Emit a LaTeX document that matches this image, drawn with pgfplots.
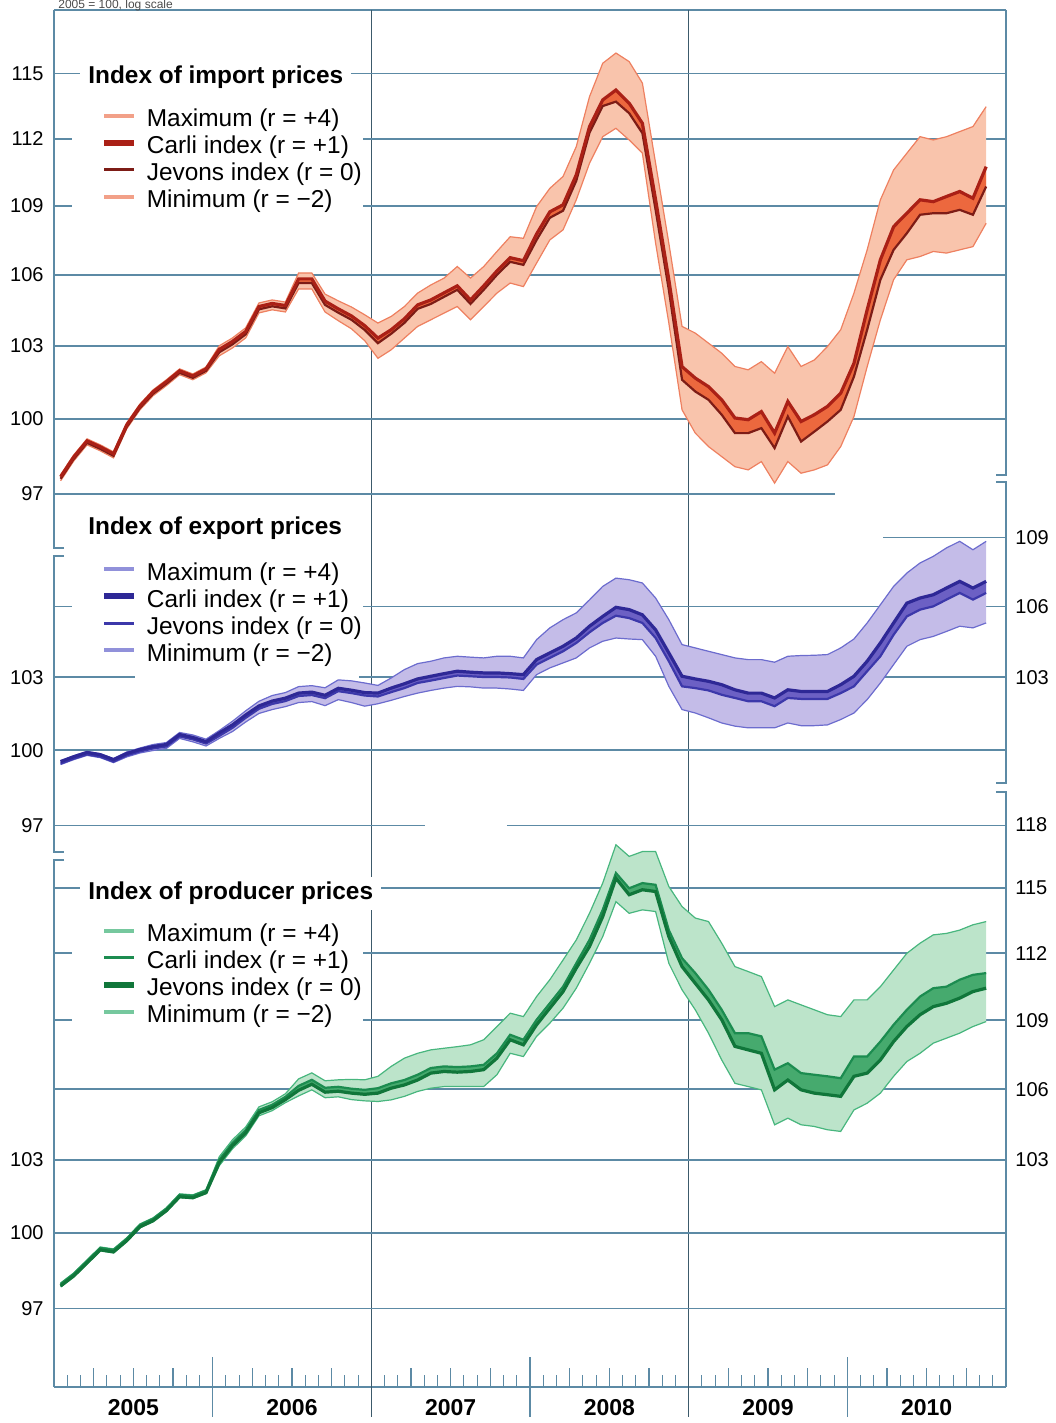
\documentclass[border=0pt]{standalone}
\usepackage{fontspec}
\setmainfont{Liberation Sans}
\usepackage{pgfplots}
\pgfplotsset{compat=1.18}
\usepackage{pgfplotstable}

\definecolor{gridc}{RGB}{92,138,165}
\definecolor{impL}{RGB}{249,196,172}
\definecolor{impE}{RGB}{238,128,96}
\definecolor{impM}{RGB}{236,104,62}
\definecolor{impC}{RGB}{170,32,22}
\definecolor{impJ}{RGB}{125,28,22}
\definecolor{expL}{RGB}{196,188,232}
\definecolor{expE}{RGB}{108,108,206}
\definecolor{expM}{RGB}{108,96,196}
\definecolor{expC}{RGB}{46,40,150}
\definecolor{expJ}{RGB}{60,56,170}
\definecolor{proL}{RGB}{188,228,202}
\definecolor{proE}{RGB}{72,182,126}
\definecolor{proM}{RGB}{70,170,110}
\definecolor{proC}{RGB}{28,140,80}
\definecolor{proJ}{RGB}{16,118,58}

% month index 0 = Jan 2005 ... 70 = Nov 2010
\pgfplotstableread{
m max carli jevons min
0 97.76 97.68 97.60 97.52
1 98.55 98.47 98.39 98.31
2 99.19 99.11 99.03 98.95
3 98.95 98.87 98.79 98.71
4 98.67 98.59 98.51 98.43
5 99.83 99.75 99.67 99.59
6 100.60 100.52 100.44 100.36
7 101.18 101.10 101.02 100.94
8 101.59 101.51 101.43 101.35
9 102.04 101.96 101.88 101.80
10 101.83 101.75 101.67 101.59
11 102.12 102.04 101.96 101.88
12 103.00 102.85 102.73 102.58
13 103.33 103.18 103.06 102.91
14 103.75 103.60 103.48 103.33
15 104.80 104.65 104.53 104.38
16 104.93 104.78 104.66 104.51
17 104.84 104.69 104.57 104.42
18 106.08 105.83 105.65 105.40
19 106.08 105.83 105.65 105.40
20 105.18 104.88 104.72 104.42
21 104.89 104.55 104.39 104.05
22 104.63 104.25 104.09 103.71
23 104.30 103.84 103.66 103.21
24 103.95 103.32 103.11 102.48
25 104.23 103.67 103.50 102.83
26 104.65 104.13 103.96 103.32
27 105.22 104.72 104.55 103.81
28 105.57 104.93 104.76 104.09
29 105.86 105.23 105.06 104.37
30 106.36 105.53 105.36 104.65
31 105.86 104.93 104.76 104.09
32 106.36 105.53 105.36 104.65
33 107.01 106.17 106.00 105.22
34 107.65 106.74 106.56 105.65
35 107.58 106.61 106.43 105.50
36 108.97 107.77 107.51 106.51
37 109.78 108.74 108.48 107.51
38 110.31 109.05 108.79 107.95
39 111.65 110.38 110.12 109.27
40 113.93 112.55 112.28 110.90
41 115.48 113.78 113.50 112.10
42 115.96 114.24 113.70 112.48
43 115.56 113.63 113.17 111.95
44 114.56 112.71 112.26 111.35
45 110.90 109.27 108.83 107.37
46 107.37 105.79 105.36 103.95
47 103.81 102.13 101.59 100.36
48 103.53 101.66 101.11 99.42
49 103.11 101.31 100.77 98.88
50 102.69 100.77 100.16 98.48
51 102.14 100.03 99.42 98.08
52 102.00 99.96 99.42 97.95
53 102.34 100.29 99.62 98.28
54 101.86 99.42 98.82 97.43
55 102.97 100.70 100.09 98.28
56 102.14 99.89 99.08 97.82
57 102.41 100.16 99.48 97.95
58 102.97 100.50 99.89 98.15
59 103.67 101.04 100.36 98.88
60 105.22 102.27 101.72 100.09
61 107.08 104.51 103.67 102.13
62 109.27 106.65 105.79 104.09
63 110.60 108.09 107.08 105.79
64 111.35 108.68 107.80 106.65
65 112.10 109.27 108.61 106.79
66 111.95 109.19 108.68 107.01
67 112.10 109.42 108.68 106.94
68 112.33 109.64 108.83 107.08
69 112.56 109.34 108.61 107.22
70 113.47 110.75 109.86 108.24
}\impdata

\pgfplotstableread{
m max carli jevons min
0 99.58 99.54 99.46 99.42
1 99.78 99.74 99.66 99.62
2 99.95 99.91 99.83 99.79
3 99.86 99.82 99.74 99.70
4 99.66 99.62 99.54 99.50
5 99.93 99.87 99.79 99.73
6 100.09 100.03 99.95 99.89
7 100.23 100.15 100.07 99.99
8 100.31 100.23 100.15 100.07
9 100.72 100.64 100.56 100.48
10 100.62 100.52 100.44 100.34
11 100.45 100.35 100.27 100.17
12 100.80 100.70 100.58 100.48
13 101.18 101.03 100.91 100.76
14 101.61 101.44 101.32 101.15
15 102.00 101.81 101.69 101.50
16 102.24 102.01 101.89 101.66
17 102.36 102.13 102.01 101.78
18 102.61 102.34 102.22 101.95
19 102.65 102.38 102.26 101.99
20 102.56 102.25 102.13 101.82
21 102.89 102.54 102.42 102.07
22 102.85 102.46 102.34 101.95
23 102.76 102.36 102.24 101.80
24 102.66 102.34 102.20 101.90
25 102.97 102.55 102.38 102.04
26 103.32 102.73 102.55 102.20
27 103.57 102.93 102.76 102.34
28 103.67 103.04 102.86 102.45
29 103.81 103.15 102.97 102.55
30 103.88 103.25 103.07 102.62
31 103.84 103.21 103.04 102.60
32 103.81 103.18 103.01 102.55
33 103.88 103.18 103.01 102.55
34 103.88 103.15 102.99 102.51
35 103.81 103.11 102.93 102.45
36 104.58 103.74 103.53 103.11
37 105.08 104.02 103.81 103.39
38 105.43 104.30 104.09 103.60
39 105.72 104.65 104.44 103.81
40 106.28 105.15 104.89 104.23
41 106.86 105.57 105.29 104.51
42 107.22 105.96 105.60 104.65
43 107.15 105.86 105.50 104.61
44 107.01 105.64 105.29 104.58
45 106.36 105.00 104.65 103.88
46 105.43 104.02 103.67 102.62
47 104.37 103.04 102.62 101.66
48 104.23 102.93 102.55 101.52
49 104.09 102.83 102.45 101.32
50 103.95 102.69 102.27 101.11
51 103.81 102.48 102.14 100.98
52 103.74 102.34 102.00 100.91
53 103.74 102.34 102.00 100.91
54 103.63 102.14 101.80 100.91
55 103.88 102.48 102.14 101.11
56 103.91 102.41 102.10 101.00
57 103.92 102.41 102.10 101.00
58 103.95 102.41 102.10 101.03
59 104.23 102.69 102.34 101.25
60 104.61 103.04 102.62 101.52
61 105.29 103.67 103.25 102.07
62 106.07 104.44 103.88 102.76
63 106.86 105.29 104.79 103.53
64 107.44 106.14 105.57 104.30
65 107.88 106.36 105.86 104.58
66 108.17 106.50 106.00 104.72
67 108.54 106.79 106.29 104.93
68 108.83 107.08 106.58 105.15
69 108.46 106.79 106.29 105.08
70 108.83 107.08 106.58 105.29
}\expdata

\pgfplotstableread{
m max carli jevons min
0 98.00 97.96 97.88 97.84
1 98.40 98.36 98.28 98.24
2 98.92 98.88 98.80 98.76
3 99.44 99.40 99.32 99.28
4 99.36 99.32 99.24 99.20
5 99.81 99.77 99.69 99.65
6 100.37 100.33 100.25 100.21
7 100.62 100.58 100.50 100.46
8 101.03 100.99 100.91 100.87
9 101.60 101.56 101.48 101.44
10 101.56 101.52 101.44 101.40
11 101.77 101.73 101.65 101.61
12 103.14 103.01 102.89 102.76
13 103.85 103.72 103.60 103.47
14 104.39 104.26 104.14 104.01
15 105.24 105.11 104.99 104.86
16 105.46 105.33 105.21 105.08
17 105.80 105.67 105.55 105.42
18 106.44 106.14 105.95 105.71
19 106.70 106.40 106.21 105.97
20 106.36 106.06 105.87 105.63
21 106.40 106.10 105.91 105.67
22 106.42 106.02 105.83 105.55
23 106.40 105.97 105.78 105.50
24 106.55 106.04 105.83 105.47
25 106.98 106.25 106.04 105.54
26 107.34 106.39 106.18 105.69
27 107.55 106.62 106.39 105.90
28 107.70 106.91 106.69 106.04
29 107.77 106.98 106.76 106.11
30 107.84 106.95 106.73 106.11
31 107.92 106.98 106.76 106.11
32 108.14 107.05 106.84 106.11
33 108.72 107.55 107.34 106.62
34 109.31 108.36 108.14 107.55
35 109.16 108.14 107.92 107.41
36 110.05 109.02 108.80 108.29
37 110.80 109.75 109.53 108.87
38 111.69 110.49 110.27 109.53
39 112.60 111.54 111.32 110.42
40 113.82 112.60 112.30 111.54
41 115.22 113.98 113.67 112.75
42 117.02 115.69 115.45 114.36
43 116.47 114.98 114.68 113.82
44 116.70 115.22 114.91 113.98
45 116.70 115.14 114.83 113.90
46 115.06 113.05 112.75 111.54
47 114.13 111.77 111.39 110.35
48 113.60 111.10 110.64 109.46
49 113.44 110.35 109.90 108.43
50 112.45 109.46 109.02 107.26
51 111.39 108.43 107.85 106.25
52 111.17 108.43 107.70 106.11
53 110.94 108.29 107.55 105.97
54 109.60 106.84 105.97 104.48
55 109.90 107.12 106.39 104.76
56 109.68 106.69 105.97 104.48
57 109.46 106.62 105.83 104.41
58 109.24 106.55 105.76 104.27
59 109.16 106.47 105.69 104.20
60 109.90 107.41 106.55 105.11
61 109.90 107.41 106.69 105.40
62 110.49 108.06 107.26 105.83
63 111.24 108.80 108.06 106.55
64 111.99 109.46 108.72 107.19
65 112.45 110.05 109.24 107.55
66 112.83 110.42 109.60 107.99
67 112.90 110.49 109.75 108.21
68 113.05 110.80 109.98 108.43
69 113.29 111.02 110.27 108.72
70 113.44 111.10 110.42 108.94
}\prodata

% band outlines: the table followed by itself in reverse month order
\pgfplotstablesort[sort key=m,sort cmp=int >]{\imprev}{\impdata}
\pgfplotstablevertcat{\impband}{\impdata}
\pgfplotstablevertcat{\impband}{\imprev}
\pgfplotstablesort[sort key=m,sort cmp=int >]{\exprev}{\expdata}
\pgfplotstablevertcat{\expband}{\expdata}
\pgfplotstablevertcat{\expband}{\exprev}
\pgfplotstablesort[sort key=m,sort cmp=int >]{\prorev}{\prodata}
\pgfplotstablevertcat{\proband}{\prodata}
\pgfplotstablevertcat{\proband}{\prorev}

\tikzset{
  gl/.style={draw=gridc, line width=0.8pt},
  frm/.style={draw=gridc, line width=0.9pt},
  vl/.style={draw=gridc!65!black, line width=0.8pt},
  ttl/.style={fill=white, inner xsep=4pt, inner ysep=2.5pt, anchor=base west, font=\bfseries\fontsize{12.2}{14}\selectfont},
}

\begin{document}
\begin{tikzpicture}
% ---------- base frame axis (y in negative pixel rows) ----------
\begin{axis}[at={(27pt,18pt)}, anchor=south west, scale only axis,
  width=476pt, height=688.5pt, xmin=-0.5, xmax=71.5, ymin=-1387, ymax=-10,
  axis line style={draw=none}, clip=false, ytick=\empty,
  xtick={2.5,5.5,8.5,14.5,17.5,20.5,26.5,29.5,32.5,38.5,41.5,44.5,50.5,53.5,56.5,62.5,65.5,68.5},
  xticklabels={,2005,,,2006,,,2007,,,2008,,,2009,,,2010,},
  minor xtick={0.5,1.5,3.5,4.5,6.5,7.5,9.5,10.5,12.5,13.5,15.5,16.5,18.5,19.5,21.5,22.5,24.5,25.5,27.5,28.5,30.5,31.5,33.5,34.5,36.5,37.5,39.5,40.5,42.5,43.5,45.5,46.5,48.5,49.5,51.5,52.5,54.5,55.5,57.5,58.5,60.5,61.5,63.5,64.5,66.5,67.5,69.5,70.5},
  extra x ticks={11.5,23.5,35.5,47.5,59.5}, extra x tick labels={},
  extra x tick style={major tick length=30pt, tick align=center},
  xtick pos=bottom, tick align=inside,
  major tick length=9.5pt, minor tick length=6pt,
  tick style={draw=gridc, line width=0.6pt},
  xticklabel style={font=\bfseries\fontsize{11.5}{13}\selectfont, yshift=-2.7pt}]
\draw[frm] (axis cs:-0.5,-10) -- (axis cs:71.5,-10);
\draw[frm] (axis cs:-0.5,-1387) -- (axis cs:71.5,-1387);
\draw[frm] (axis cs:0.26,-548) -- (axis cs:-0.5,-548) -- (axis cs:-0.5,-10);
\draw[frm] (axis cs:0.26,-556) -- (axis cs:-0.5,-556) -- (axis cs:-0.5,-852) -- (axis cs:0.26,-852);
\draw[frm] (axis cs:0.26,-860) -- (axis cs:-0.5,-860) -- (axis cs:-0.5,-1387);
\draw[frm] (axis cs:71.5,-10) -- (axis cs:71.5,-475) -- (axis cs:70.74,-475);
\draw[frm] (axis cs:70.74,-482) -- (axis cs:71.5,-482) -- (axis cs:71.5,-783) -- (axis cs:70.74,-783);
\draw[frm] (axis cs:70.74,-792) -- (axis cs:71.5,-792) -- (axis cs:71.5,-1387);
\draw[vl] (axis cs:23.5,-10) -- (axis cs:23.5,-1417);
\draw[vl] (axis cs:47.5,-10) -- (axis cs:47.5,-1417);
\node[anchor=base west, inner sep=0pt, font=\fontsize{6}{7}\selectfont, text=black!70] at (axis cs:-0.2,-8.5) {2005 = 100, log scale};
\end{axis}

% ---------- import prices ----------
\begin{axis}[at={(27pt,18pt)}, anchor=south west, scale only axis,
  width=476pt, height=688.5pt, xmin=-0.5, xmax=71.5, xtick=\empty,
  ymode=log, ymin=67.575, ymax=118.005,
  axis line style={draw=none}, major tick length=0pt, ytick style={draw=none},
  clip=false, no markers,
  ytick={97,100,103,106,109,112,115}, yticklabels={97,100,103,106,109,112,115},
  yticklabel style={font=\fontsize{10}{12}\selectfont, xshift=-1.7pt},
  legend cell align=left,
  legend image code/.code={\path[draw=none] (-16pt,0pt) -- (15pt,0pt); \draw[#1] (0pt,2.6pt) -- (15pt,2.6pt);},
  legend style={draw=none, fill=white, inner sep=0pt, font=\fontsize{12.2}{14}\selectfont,
    column sep=4pt, row sep=0pt, nodes={inner sep=0.7pt, text height=8.9pt, text depth=3.2pt},
    at={(0.019,0.9293)}, anchor=north west}]
\draw[gl] (axis cs:-0.5,115) -- (axis cs:71.5,115);
\draw[gl] (axis cs:-0.5,112) -- (axis cs:71.5,112);
\draw[gl] (axis cs:-0.5,109) -- (axis cs:71.5,109);
\draw[gl] (axis cs:-0.5,106) -- (axis cs:71.5,106);
\draw[gl] (axis cs:-0.5,103) -- (axis cs:71.5,103);
\draw[gl] (axis cs:-0.5,100) -- (axis cs:71.5,100);
\draw[gl] (axis cs:-0.5,97) -- (axis cs:58.57,97);
\addplot[fill=impL, draw=none, forget plot] table[x=m, y expr={\coordindex<71 ? \thisrow{max} : \thisrow{min}}]{\impband};
\addplot[impE, line width=0.6pt, forget plot] table[x=m,y=max]{\impdata};
\addplot[impE, line width=0.6pt, forget plot] table[x=m,y=min]{\impdata};
\addplot[fill=impM, draw=none, forget plot] table[x=m, y expr={\coordindex<71 ? \thisrow{carli} : \thisrow{jevons}}]{\impband};
\addplot[impJ, line width=1.1pt, forget plot] table[x=m,y=jevons]{\impdata};
\addplot[impC, line width=1.6pt, forget plot] table[x=m,y=carli]{\impdata};
\node[ttl] at (rel axis cs:0.0273,0.9468) {Index of import prices};
\addlegendimage{impE!75, line width=2pt}\addlegendentry{Maximum (r = +4)}
\addlegendimage{impC, line width=3pt}\addlegendentry{Carli index (r = +1)}
\addlegendimage{impJ, line width=1.6pt}\addlegendentry{Jevons index (r = 0)}
\addlegendimage{impE!75, line width=2pt}\addlegendentry{Minimum (r = −2)}
\end{axis}

% ---------- export prices ----------
\begin{axis}[at={(27pt,18pt)}, anchor=south west, scale only axis,
  width=476pt, height=688.5pt, xmin=-0.5, xmax=71.5, xtick=\empty,
  ymode=log, ymin=77.287, ymax=134.965,
  axis line style={draw=none}, major tick length=0pt, ytick style={draw=none},
  clip=false, no markers,
  ytick={97,100,103}, yticklabels={97,100,103},
  yticklabel style={font=\fontsize{10}{12}\selectfont, xshift=-1.7pt},
  legend cell align=left,
  legend image code/.code={\path[draw=none] (-16pt,0pt) -- (15pt,0pt); \draw[#1] (0pt,2.6pt) -- (15pt,2.6pt);},
  legend style={draw=none, fill=white, inner sep=0pt, font=\fontsize{12.2}{14}\selectfont,
    column sep=4pt, row sep=0pt, nodes={inner sep=0.7pt, text height=8.9pt, text depth=3.2pt},
    at={(0.019,0.6001)}, anchor=north west}]
\draw[gl] (axis cs:-0.5,106) -- (axis cs:71.5,106);
\draw[gl] (axis cs:-0.5,100) -- (axis cs:71.5,100);
\draw[gl] (axis cs:62.2,109) -- (axis cs:71.5,109);
\draw[gl] (axis cs:-0.5,103) -- (axis cs:5.63,103);
\draw[gl] (axis cs:22.6,103) -- (axis cs:71.5,103);
\draw[gl] (axis cs:-0.5,97) -- (axis cs:27.56,97);
\draw[gl] (axis cs:33.76,97) -- (axis cs:71.5,97);
\addplot[fill=expL, draw=none, forget plot] table[x=m, y expr={\coordindex<71 ? \thisrow{max} : \thisrow{min}}]{\expband};
\addplot[expE, line width=0.6pt, forget plot] table[x=m,y=max]{\expdata};
\addplot[expE, line width=0.6pt, forget plot] table[x=m,y=min]{\expdata};
\addplot[fill=expM, draw=none, forget plot] table[x=m, y expr={\coordindex<71 ? \thisrow{carli} : \thisrow{jevons}}]{\expband};
\addplot[expJ, line width=1.1pt, forget plot] table[x=m,y=jevons]{\expdata};
\addplot[expC, line width=1.6pt, forget plot] table[x=m,y=carli]{\expdata};
\node[ttl] at (rel axis cs:0.0273,0.6187) {Index of export prices};
\addlegendimage{expE!75, line width=2pt}\addlegendentry{Maximum (r = +4)}
\addlegendimage{expC, line width=3pt}\addlegendentry{Carli index (r = +1)}
\addlegendimage{expJ, line width=1.6pt}\addlegendentry{Jevons index (r = 0)}
\addlegendimage{expE!75, line width=2pt}\addlegendentry{Minimum (r = −2)}
\end{axis}
\begin{axis}[at={(27pt,18pt)}, anchor=south west, scale only axis,
  width=476pt, height=688.5pt, xmin=-0.5, xmax=71.5, xtick=\empty,
  ymode=log, ymin=77.287, ymax=134.965,
  axis line style={draw=none}, major tick length=0pt, ytick style={draw=none},
  ytick={103,106,109}, yticklabels={103,106,109}, yticklabel pos=right,
  yticklabel style={font=\fontsize{10}{12}\selectfont, xshift=1.2pt}]
\end{axis}

% ---------- producer prices ----------
\begin{axis}[at={(27pt,18pt)}, anchor=south west, scale only axis,
  width=476pt, height=688.5pt, xmin=-0.5, xmax=71.5, xtick=\empty,
  ymode=log, ymin=93.964, ymax=164.088,
  axis line style={draw=none}, major tick length=0pt, ytick style={draw=none},
  clip=false, no markers,
  ytick={97,100,103}, yticklabels={97,100,103},
  yticklabel style={font=\fontsize{10}{12}\selectfont, xshift=-1.7pt},
  legend cell align=left,
  legend image code/.code={\path[draw=none] (-16pt,0pt) -- (15pt,0pt); \draw[#1] (0pt,2.6pt) -- (15pt,2.6pt);},
  legend style={draw=none, fill=white, inner sep=0pt, font=\fontsize{12.2}{14}\selectfont,
    column sep=4pt, row sep=0pt, nodes={inner sep=0.7pt, text height=8.9pt, text depth=3.2pt},
    at={(0.019,0.3375)}, anchor=north west}]
\draw[gl] (axis cs:-0.5,115) -- (axis cs:71.5,115);
\draw[gl] (axis cs:-0.5,112) -- (axis cs:71.5,112);
\draw[gl] (axis cs:-0.5,109) -- (axis cs:71.5,109);
\draw[gl] (axis cs:-0.5,106) -- (axis cs:71.5,106);
\draw[gl] (axis cs:-0.5,103) -- (axis cs:71.5,103);
\draw[gl] (axis cs:-0.5,100) -- (axis cs:71.5,100);
\draw[gl] (axis cs:-0.5,97) -- (axis cs:71.5,97);
\addplot[fill=proL, draw=none, forget plot] table[x=m, y expr={\coordindex<71 ? \thisrow{max} : \thisrow{min}}]{\proband};
\addplot[proE, line width=0.6pt, forget plot] table[x=m,y=max]{\prodata};
\addplot[proE, line width=0.6pt, forget plot] table[x=m,y=min]{\prodata};
\addplot[fill=proM, draw=none, forget plot] table[x=m, y expr={\coordindex<71 ? \thisrow{carli} : \thisrow{jevons}}]{\proband};
\addplot[proC, line width=1.1pt, forget plot] table[x=m,y=carli]{\prodata};
\addplot[proJ, line width=1.6pt, forget plot] table[x=m,y=jevons]{\prodata};
\node[ttl] at (rel axis cs:0.0273,0.3537) {Index of producer prices};
\addlegendimage{proE!75, line width=2pt}\addlegendentry{Maximum (r = +4)}
\addlegendimage{proC, line width=1.6pt}\addlegendentry{Carli index (r = +1)}
\addlegendimage{proJ, line width=3pt}\addlegendentry{Jevons index (r = 0)}
\addlegendimage{proE!75, line width=2pt}\addlegendentry{Minimum (r = −2)}
\end{axis}
\begin{axis}[at={(27pt,18pt)}, anchor=south west, scale only axis,
  width=476pt, height=688.5pt, xmin=-0.5, xmax=71.5, xtick=\empty,
  ymode=log, ymin=93.964, ymax=164.088,
  axis line style={draw=none}, major tick length=0pt, ytick style={draw=none},
  ytick={103,106,109,112,115,118}, yticklabels={103,106,109,112,115,118}, yticklabel pos=right,
  yticklabel style={font=\fontsize{10}{12}\selectfont, xshift=1.2pt}]
\end{axis}

\pgfresetboundingbox
\useasboundingbox (0pt,0pt) rectangle (527.5pt,711.5pt);
\end{tikzpicture}
\end{document}
